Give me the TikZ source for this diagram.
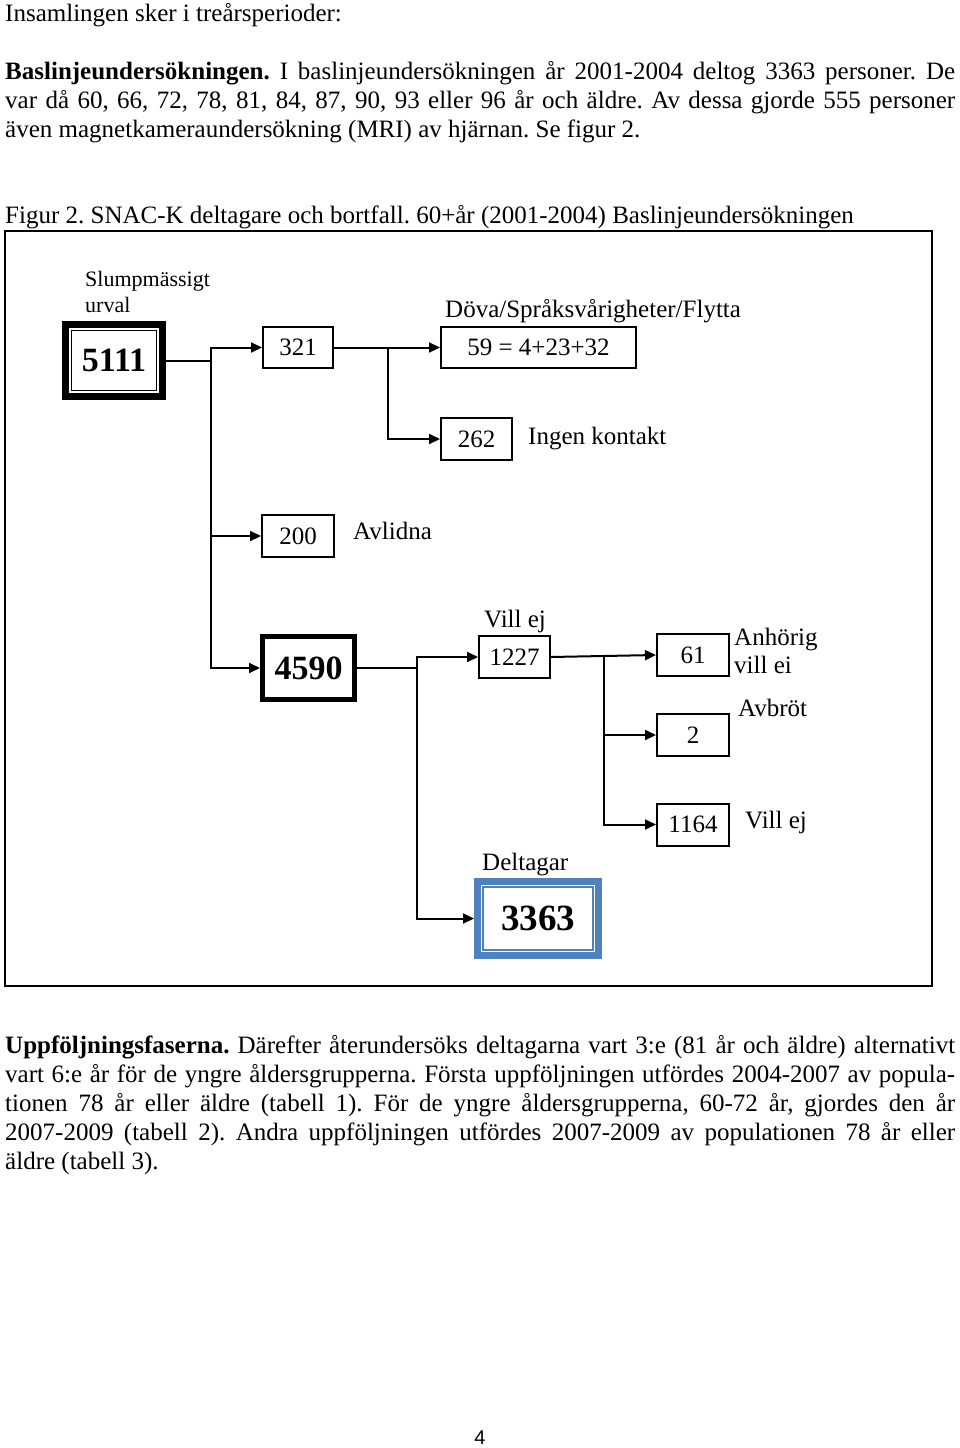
\documentclass[tikz,border=0pt]{standalone}
\usepackage{fontspec}
\setmainfont{Liberation Serif}
\newfontfamily\pagefont{Liberation Sans}
\usetikzlibrary{arrows.meta,calc}
\definecolor{boxblue}{RGB}{79,129,189}
\frenchspacing
\begin{document}
\begin{tikzpicture}[x=1pt,y=-1pt,
  box/.style={draw,line width=2pt,inner sep=0pt,font=\fontsize{25}{30}\selectfont},
  bigbox/.style={draw,inner sep=0pt,font=\fontsize{34}{40}\selectfont\bfseries},
  arr/.style={line width=2pt,-{Triangle[length=11pt,width=10pt]}},
  conn/.style={line width=2pt},
  txt/.style={inner sep=0pt,anchor=base west,font=\fontsize{25}{30}\selectfont},
  small/.style={inner sep=0pt,anchor=base west,font=\fontsize{22}{26}\selectfont},
]
\useasboundingbox[fill=white] (0,0) rectangle (960,1448);

% ---- top text
\node[txt] (t1) at (5,21) {Insamlingen sker i treårsperioder:};
\node[txt] (t2) at (5,79) {\makebox[950pt][s]{\textbf{Baslinjeundersökningen.} I baslinjeundersökningen år 2001-2004 deltog 3363 personer. De}};
\node[txt] (t3) at (5,108) {\makebox[950pt][s]{var då 60, 66, 72, 78, 81, 84, 87, 90, 93 eller 96 år och äldre. Av dessa gjorde 555 personer}};
\node[txt] (t4) at (5,137) {även magnetkameraundersökning (MRI) av hjärnan. Se figur 2.};
\node[txt] (cap) at (5,223) {Figur 2. SNAC-K deltagare och bortfall. 60+år (2001-2004) Baslinjeundersökningen};

% ---- frame
\draw[line width=2.2pt] (5,231) rectangle (932,986);

% ---- boxes
\node[bigbox,line width=7pt,minimum width=97pt,minimum height=72pt] (b5111) at (114,360.5) {5111};
\draw[line width=1.3pt] ($(b5111.north west)+(9.5,9.5)$) rectangle ($(b5111.south east)+(-9.5,-9.5)$);
\node[box,minimum width=70pt,minimum height=41pt] (b321) at (298,347.5) {321};
\node[box,minimum width=195pt,minimum height=41pt] (b59) at (538.5,347.5) {59 = 4+23+32};
\node[box,minimum width=71pt,minimum height=42pt] (b262) at (476.5,439) {262};
\node[box,minimum width=72pt,minimum height=42pt] (b200) at (298,536) {200};
\node[bigbox,line width=5pt,minimum width=92pt,minimum height=63pt] (b4590) at (308.5,668) {4590};
\node[box,minimum width=71pt,minimum height=42pt] (b1227) at (514.5,657) {1227};
\node[box,minimum width=72pt,minimum height=42pt] (b61) at (693,655) {61};
\node[box,minimum width=72pt,minimum height=42pt] (b2) at (693,735) {2};
\node[box,minimum width=72pt,minimum height=42pt] (b1164) at (693,824.5) {1164};
\node[bigbox,draw=boxblue,line width=7pt,minimum width=121pt,minimum height=74pt,font=\fontsize{37}{44}\selectfont\bfseries] (b3363) at (538,918.5) {3363};
\draw[boxblue,line width=1.3pt] ($(b3363.north west)+(9,9)$) rectangle ($(b3363.south east)+(-9,-9)$);

% ---- labels
\node[small] (l1) at (85,286) {Slumpmässigt};
\node[small] (l2) at (85,312) {urval};
\node[txt] (l3) at (445,317) {Döva/Språksvårigheter/Flytta};
\node[txt] (l4) at (528,444) {Ingen kontakt};
\node[txt] (l5) at (353,539) {Avlidna};
\node[txt] (l6) at (484,627) {Vill ej};
\node[txt] (l7) at (734,645) {Anhörig};
\node[txt] (l8) at (734,673) {vill ei};
\node[txt] (l9) at (738,716) {Avbröt};
\node[txt] (l10) at (745,828) {Vill ej};
\node[txt] (l11) at (482,870) {Deltagar};

% ---- connectors
\coordinate (j1) at (211,360.5);
\coordinate (j2) at (388,347.5);
\coordinate (j3) at (417,668);
\coordinate (j4) at (604,656);
\draw[conn] (b5111.east) -- (j1);
\draw[arr] (j1) |- (b321.west);
\draw[arr] (j1) |- (b200.west);
\draw[arr] (j1) |- (b4590.west);
\draw[arr] (b321.east) -- (b59.west);
\draw[arr] (j2) |- (b262.west);
\draw[conn] (b4590.east) -- (j3);
\draw[arr] (j3) |- (b1227.west);
\draw[arr] (j3) |- (b3363.west);
\draw[arr] (b1227.east) -- (b61.west);
\draw[arr] (j4) |- (b2.west);
\draw[arr] (j4) |- (b1164.west);

% ---- bottom text
\node[txt] (u1) at (5,1053) {\makebox[950pt][s]{\textbf{Uppföljningsfaserna.} Därefter återundersöks deltagarna vart 3:e (81 år och äldre) alternativt}};
\node[txt] (u2) at (5,1082) {\makebox[950pt][s]{vart 6:e år för de yngre åldersgrupperna. Första uppföljningen utfördes 2004-2007 av popula-}};
\node[txt] (u3) at (5,1111) {\makebox[950pt][s]{tionen 78 år eller äldre (tabell 1). För de yngre åldersgrupperna, 60-72 år, gjordes den år}};
\node[txt] (u4) at (5,1140) {\makebox[950pt][s]{2007-2009 (tabell 2). Andra uppföljningen utfördes 2007-2009 av populationen 78 år eller}};
\node[txt] (u5) at (5,1169) {äldre (tabell 3).};

\node[inner sep=0pt,font=\pagefont\fontsize{20}{24}\selectfont] (pg) at (480,1438) {4};
\end{tikzpicture}
\end{document}
